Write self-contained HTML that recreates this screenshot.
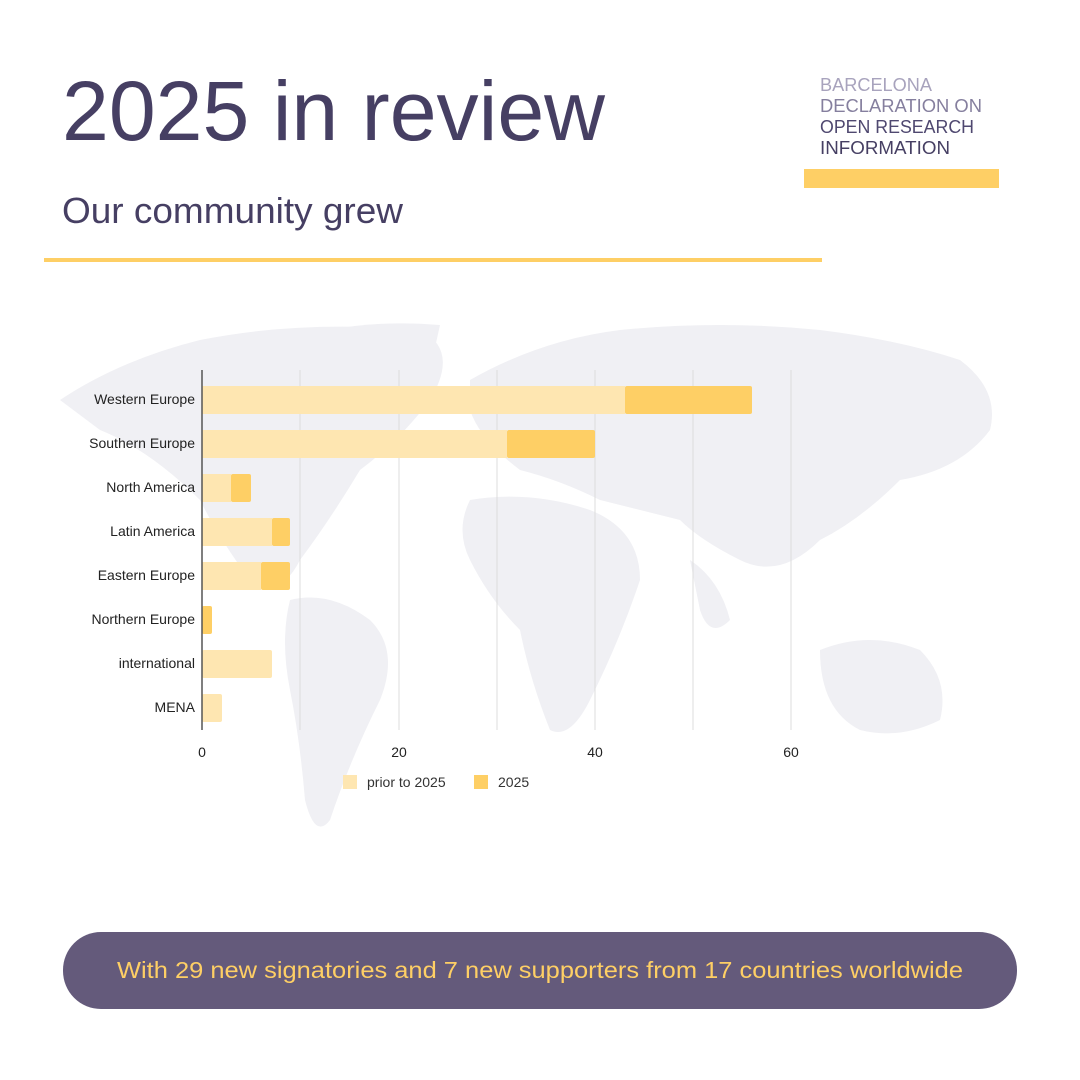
<!DOCTYPE html>
<html><head><meta charset="utf-8"><style>
body{margin:0;background:#fff;}
svg{display:block}
</style></head><body>
<svg width="1080" height="1080" viewBox="0 0 1080 1080" xmlns="http://www.w3.org/2000/svg" font-family="Liberation Sans, sans-serif">
<rect width="1080" height="1080" fill="#fff"/>
<!-- map blobs -->
<g fill="#f0f0f4">
<path d="M60 400 Q120 360 200 340 Q300 320 420 330 Q460 350 430 400 Q400 440 360 470 Q330 520 300 560 Q280 600 250 580 Q220 540 200 500 Q150 450 100 430 Z"/>
<path d="M330 330 Q380 320 440 325 L430 370 Q390 380 350 360 Z"/>
<path d="M290 600 Q330 590 370 620 Q400 650 380 700 Q350 760 330 820 Q315 840 305 800 Q300 740 290 690 Q280 640 290 600 Z"/>
<path d="M470 380 Q540 340 620 330 Q720 320 820 330 Q900 340 960 360 Q1000 390 990 430 Q960 470 900 480 Q860 520 820 540 Q780 580 740 560 Q700 540 680 520 Q640 510 600 500 Q560 480 520 470 Q480 440 470 410 Z"/>
<path d="M470 500 Q530 490 590 510 Q640 530 640 580 Q620 640 590 700 Q570 740 550 730 Q530 680 520 630 Q490 600 470 560 Q455 530 470 500 Z"/>
<path d="M820 650 Q870 630 920 650 Q950 680 940 720 Q900 740 860 730 Q820 710 820 650 Z"/>
<path d="M690 560 Q720 580 730 620 Q710 640 700 610 Z"/>
</g>
<!-- header -->
<text x="62" y="140" font-size="84" fill="#463f63" textLength="543" lengthAdjust="spacingAndGlyphs">2025 in review</text>
<text x="62" y="223" font-size="36" fill="#463f63" textLength="341" lengthAdjust="spacingAndGlyphs">Our community grew</text>
<rect x="44" y="258" width="778" height="4" fill="#fecf65"/>
<g font-size="18">
<text x="820" y="91" fill="#a8a3bd" textLength="112" lengthAdjust="spacingAndGlyphs">BARCELONA</text>
<text x="820" y="112" fill="#857f9e" textLength="162" lengthAdjust="spacingAndGlyphs">DECLARATION ON</text>
<text x="820" y="133" fill="#4f4870" textLength="154" lengthAdjust="spacingAndGlyphs">OPEN RESEARCH</text>
<text x="820" y="154" fill="#463f63" textLength="130" lengthAdjust="spacingAndGlyphs">INFORMATION</text>
</g>
<rect x="804" y="169" width="195" height="19" fill="#fecf65"/>
<!-- grid -->
<g stroke="#dcdcdc" stroke-width="1">
<line x1="300" y1="370" x2="300" y2="730"/><line x1="399" y1="370" x2="399" y2="730"/>
<line x1="497" y1="370" x2="497" y2="730"/><line x1="595" y1="370" x2="595" y2="730"/>
<line x1="693" y1="370" x2="693" y2="730"/><line x1="791" y1="370" x2="791" y2="730"/>
</g>
<!-- bars -->
<g>
<rect x="202" y="386" width="423" height="28" fill="#fee6b1"/><rect x="625" y="386" width="127" height="28" rx="2" fill="#fecf65"/>
<rect x="202" y="430" width="305" height="28" fill="#fee6b1"/><rect x="507" y="430" width="88" height="28" rx="2" fill="#fecf65"/>
<rect x="202" y="474" width="29" height="28" fill="#fee6b1"/><rect x="231" y="474" width="20" height="28" rx="2" fill="#fecf65"/>
<rect x="202" y="518" width="70" height="28" fill="#fee6b1"/><rect x="272" y="518" width="18" height="28" rx="2" fill="#fecf65"/>
<rect x="202" y="562" width="59" height="28" fill="#fee6b1"/><rect x="261" y="562" width="29" height="28" rx="2" fill="#fecf65"/>
<rect x="202" y="606" width="10" height="28" rx="2" fill="#fecf65"/>
<rect x="202" y="650" width="70" height="28" rx="2" fill="#fee6b1"/>
<rect x="202" y="694" width="20" height="28" rx="2" fill="#fee6b1"/>
</g>
<line x1="202" y1="370" x2="202" y2="730" stroke="#555" stroke-width="1.5"/>
<g font-size="14" fill="#222" text-anchor="end">
<text x="195" y="404">Western Europe</text>
<text x="195" y="448">Southern Europe</text>
<text x="195" y="492">North America</text>
<text x="195" y="536">Latin America</text>
<text x="195" y="580">Eastern Europe</text>
<text x="195" y="624">Northern Europe</text>
<text x="195" y="668">international</text>
<text x="195" y="712">MENA</text>
</g>
<g font-size="14" fill="#222" text-anchor="middle">
<text x="202" y="757">0</text><text x="399" y="757">20</text><text x="595" y="757">40</text><text x="791" y="757">60</text>
</g>
<rect x="343" y="775" width="14" height="14" fill="#fee6b1"/>
<text x="367" y="787" font-size="14" fill="#333">prior to 2025</text>
<rect x="474" y="775" width="14" height="14" fill="#fecf65"/>
<text x="498" y="787" font-size="14" fill="#333">2025</text>
<!-- bottom pill -->
<rect x="63" y="932" width="954" height="77" rx="38" fill="#645a7b"/>
<text x="117" y="978" font-size="23" fill="#fecf65" textLength="846" lengthAdjust="spacingAndGlyphs">With 29 new signatories and 7 new supporters from 17 countries worldwide</text>
</svg>
</body></html>
